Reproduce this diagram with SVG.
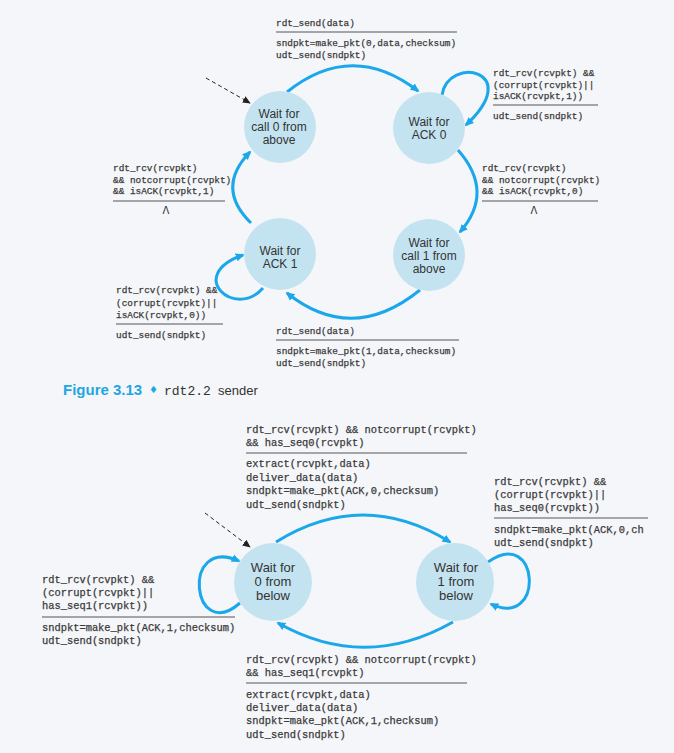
<svg xmlns="http://www.w3.org/2000/svg" width="674" height="753" viewBox="0 0 674 753">
<style>
.m{font-family:"Liberation Mono","Courier New",monospace;fill:#3a3a3a;font-size:9.4px;stroke:#3a3a3a;stroke-width:0.25}
.m2{font-family:"Liberation Mono","Courier New",monospace;fill:#3a3a3a;font-size:10.4px;stroke:#3a3a3a;stroke-width:0.25}
.st{fill:#c4e3f1}
.t{font-family:"Liberation Sans",Arial,sans-serif;fill:#333;font-size:12px;text-anchor:middle}
.t2{font-family:"Liberation Sans",Arial,sans-serif;fill:#333;font-size:13px;text-anchor:middle}
.arc{fill:none;stroke:#1ba8ea;stroke-width:3;marker-end:url(#ah)}
.init{fill:none;stroke:#222;stroke-width:1;stroke-dasharray:4 3;marker-end:url(#ai)}
.sep{stroke:#555;stroke-width:1}
.lam{font-family:"DejaVu Sans",sans-serif;fill:#333;font-size:10px;text-anchor:middle}
</style>
<defs>
<marker id="ah" viewBox="0 0 10 10" refX="8" refY="5" markerWidth="9" markerHeight="9" markerUnits="userSpaceOnUse" orient="auto"><path d="M0,0.5 L10,5 L0,9.5 z" fill="#1ba8ea"/></marker>
<marker id="ai" viewBox="0 0 10 10" refX="9" refY="5" markerWidth="8" markerHeight="8" markerUnits="userSpaceOnUse" orient="auto"><path d="M0,0.5 L10,5 L0,9.5 z" fill="#222"/></marker>
</defs>
<rect width="674" height="753" fill="#f5f6f9"/>

<g id="connectors">
<path class="arc" d="M287 92 Q352 40 418 91"/>
<path class="arc" d="M458 150 Q495 192 460 232"/>
<path class="arc" d="M420 290 Q352 345 287 293"/>
<path class="arc" d="M251 223 Q215 188 250 152"/>
<path class="arc" d="M442 95 C448 55 525 70 466 125"/>
<path class="arc" d="M263 288 C235 320 185 275 243 255"/>
<path class="init" d="M206 78 L250 103"/>
<path class="arc" d="M276 542 Q363 488 450 542"/>
<path class="arc" d="M453 622 Q365 672 278 623"/>
<path class="arc" d="M240 603 C192 645 180 535 239 561"/>
<path class="arc" d="M488 562 C540 525 545 630 491 604"/>
<path class="init" d="M205 513 L250 547"/>
</g>

<g id="call0">
<circle class="st" cx="280" cy="127" r="36"/>
<text class="t" x="279" y="118">Wait for</text>
<text class="t" x="279" y="131">call 0 from</text>
<text class="t" x="279" y="144">above</text>
</g>
<g id="ack0">
<circle class="st" cx="429" cy="128" r="36"/>
<text class="t" x="429" y="126">Wait for</text>
<text class="t" x="429" y="139">ACK 0</text>
</g>
<g id="ack1">
<circle class="st" cx="280" cy="254" r="36"/>
<text class="t" x="280" y="255">Wait for</text>
<text class="t" x="280" y="268">ACK 1</text>
</g>
<g id="call1">
<circle class="st" cx="429" cy="255" r="36"/>
<text class="t" x="429" y="247">Wait for</text>
<text class="t" x="429" y="260">call 1 from</text>
<text class="t" x="429" y="273">above</text>
</g>

<g id="labels-sender">
<text class="m" x="276" y="26">rdt_send(data)</text>
<line class="sep" x1="276" y1="32" x2="457" y2="32"/>
<text class="m" x="276" y="46">sndpkt=make_pkt(0,data,checksum)</text>
<text class="m" x="276" y="58">udt_send(sndpkt)</text>

<text class="m" x="493" y="76">rdt_rcv(rcvpkt) &amp;&amp;</text>
<text class="m" x="493" y="88">(corrupt(rcvpkt)||</text>
<text class="m" x="493" y="99">isACK(rcvpkt,1))</text>
<line class="sep" x1="493" y1="105" x2="598" y2="105"/>
<text class="m" x="493" y="119">udt_send(sndpkt)</text>

<text class="m" x="482" y="171">rdt_rcv(rcvpkt)</text>
<text class="m" x="482" y="183">&amp;&amp; notcorrupt(rcvpkt)</text>
<text class="m" x="482" y="194">&amp;&amp; isACK(rcvpkt,0)</text>
<line class="sep" x1="482" y1="201" x2="598" y2="201"/>
<text class="lam" x="534" y="214">Λ</text>

<text class="m" x="113" y="171">rdt_rcv(rcvpkt)</text>
<text class="m" x="113" y="183">&amp;&amp; notcorrupt(rcvpkt)</text>
<text class="m" x="113" y="194">&amp;&amp; isACK(rcvpkt,1)</text>
<line class="sep" x1="113" y1="201" x2="225" y2="201"/>
<text class="lam" x="166" y="214">Λ</text>

<text class="m" x="116" y="293">rdt_rcv(rcvpkt) &amp;&amp;</text>
<text class="m" x="116" y="306">(corrupt(rcvpkt)||</text>
<text class="m" x="116" y="318">isACK(rcvpkt,0))</text>
<line class="sep" x1="116" y1="324" x2="223" y2="324"/>
<text class="m" x="116" y="338">udt_send(sndpkt)</text>

<text class="m" x="276" y="334">rdt_send(data)</text>
<line class="sep" x1="276" y1="340" x2="459" y2="340"/>
<text class="m" x="276" y="354">sndpkt=make_pkt(1,data,checksum)</text>
<text class="m" x="276" y="366">udt_send(sndpkt)</text>
</g>

<g id="caption">
<text x="63" y="395" font-family="Liberation Sans,Arial,sans-serif" font-weight="bold" font-size="15" fill="#1fa6e2">Figure 3.13</text>
<text x="149" y="393" font-family="DejaVu Sans,sans-serif" font-size="10" fill="#1fa6e2">♦</text>
<text x="164" y="395" font-family="Liberation Mono,monospace" font-size="13" fill="#333">rdt2.2</text>
<text x="218" y="395" font-family="Liberation Sans,Arial,sans-serif" font-size="13" fill="#333">sender</text>
</g>

<g id="below0">
<circle class="st" cx="273" cy="582" r="39"/>
<text class="t2" x="273" y="572">Wait for</text>
<text class="t2" x="273" y="586">0 from</text>
<text class="t2" x="273" y="600">below</text>
</g>
<g id="below1">
<circle class="st" cx="455" cy="582" r="39"/>
<text class="t2" x="456" y="572">Wait for</text>
<text class="t2" x="456" y="586">1 from</text>
<text class="t2" x="456" y="600">below</text>
</g>

<g id="labels-receiver">
<text class="m2" x="246" y="433">rdt_rcv(rcvpkt) &amp;&amp; notcorrupt(rcvpkt)</text>
<text class="m2" x="246" y="446">&amp;&amp; has_seq0(rcvpkt)</text>
<line class="sep" x1="246" y1="453" x2="467" y2="453"/>
<text class="m2" x="246" y="467">extract(rcvpkt,data)</text>
<text class="m2" x="246" y="481">deliver_data(data)</text>
<text class="m2" x="246" y="494">sndpkt=make_pkt(ACK,0,checksum)</text>
<text class="m2" x="246" y="508">udt_send(sndpkt)</text>

<text class="m2" x="494" y="485">rdt_rcv(rcvpkt) &amp;&amp;</text>
<text class="m2" x="494" y="498">(corrupt(rcvpkt)||</text>
<text class="m2" x="494" y="511">has_seq0(rcvpkt))</text>
<line class="sep" x1="494" y1="518" x2="648" y2="518"/>
<text class="m2" x="494" y="533">sndpkt=make_pkt(ACK,0,ch</text>
<text class="m2" x="494" y="546">udt_send(sndpkt)</text>

<text class="m2" x="42" y="583">rdt_rcv(rcvpkt) &amp;&amp;</text>
<text class="m2" x="42" y="596">(corrupt(rcvpkt)||</text>
<text class="m2" x="42" y="609">has_seq1(rcvpkt))</text>
<line class="sep" x1="42" y1="617" x2="235" y2="617"/>
<text class="m2" x="42" y="631">sndpkt=make_pkt(ACK,1,checksum)</text>
<text class="m2" x="42" y="644">udt_send(sndpkt)</text>

<text class="m2" x="246" y="663">rdt_rcv(rcvpkt) &amp;&amp; notcorrupt(rcvpkt)</text>
<text class="m2" x="246" y="676">&amp;&amp; has_seq1(rcvpkt)</text>
<line class="sep" x1="246" y1="683" x2="467" y2="683"/>
<text class="m2" x="246" y="698">extract(rcvpkt,data)</text>
<text class="m2" x="246" y="711">deliver_data(data)</text>
<text class="m2" x="246" y="724">sndpkt=make_pkt(ACK,1,checksum)</text>
<text class="m2" x="246" y="738">udt_send(sndpkt)</text>
</g>
</svg>
